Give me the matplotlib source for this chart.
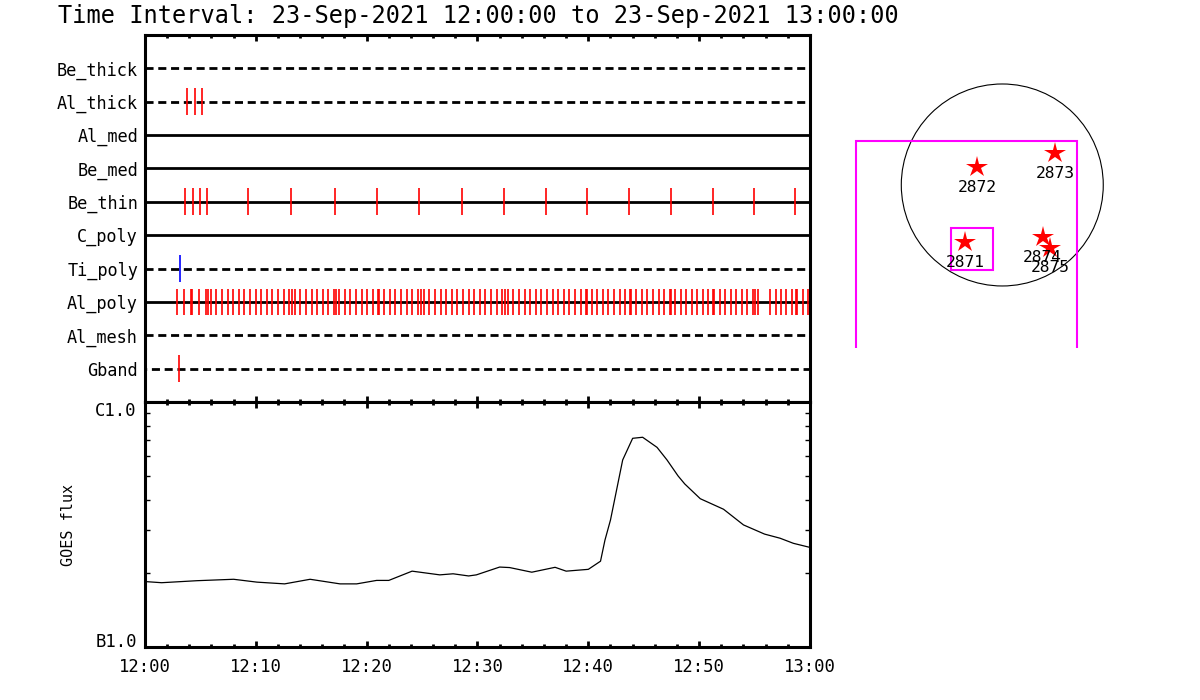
import matplotlib
matplotlib.use('Agg')
from matplotlib import pyplot as plt
from matplotlib.patches import Circle, Rectangle
import numpy as np

plt.rcParams['font.family'] = ['DejaVu Sans Mono', 'DejaVu Sans']

# detector rows, top to bottom
rows = ['Be_thick', 'Al_thick', 'Al_med', 'Be_med', 'Be_thin',
        'C_poly', 'Ti_poly', 'Al_poly', 'Al_mesh', 'Gband']
dashed = [True, True, False, False, False, False, True, False, True, True]

# event times, minutes after 12:00
al_thick_t = [3.82, 4.54, 5.17]
be_thin_t = [3.64, 4.36, 4.99, 5.62, 9.32, 13.2, 17.17, 20.96, 24.75, 28.63,
             32.42, 36.21, 39.91, 43.70, 47.49, 51.28, 54.98, 58.68]
ti_poly_t = [3.19]
al_poly_t = [2.92, 3.55, 4.18, 4.27, 4.90, 5.53, 5.71, 5.98, 6.44, 6.98,
             7.52, 7.97, 8.51, 8.96, 9.50, 10.05, 10.50, 11.04, 11.49, 12.03,
             12.57, 13.02, 13.29, 13.56, 14.02, 14.56, 15.10, 15.55, 16.09, 16.54,
             17.08, 17.26, 17.53, 18.08, 18.53, 19.07, 19.61, 20.06, 20.60, 21.05,
             21.14, 21.59, 22.14, 22.59, 23.13, 23.67, 24.12, 24.66, 24.93, 25.20,
             25.65, 26.20, 26.74, 27.19, 27.73, 28.18, 28.72, 29.26, 29.72, 30.26,
             30.71, 31.25, 31.79, 32.24, 32.51, 32.78, 33.23, 33.77, 34.31, 34.77,
             35.31, 35.76, 36.30, 36.84, 37.29, 37.84, 38.29, 38.83, 39.37, 39.82,
             39.91, 40.36, 40.81, 41.35, 41.80, 42.34, 42.89, 43.34, 43.79, 43.88,
             44.33, 44.87, 45.32, 45.87, 46.41, 46.86, 47.40, 47.49, 47.85, 48.39,
             48.84, 49.38, 49.84, 50.38, 50.83, 51.28, 51.37, 51.91, 52.36, 52.90,
             53.35, 53.90, 54.35, 54.89, 55.07, 55.34, 56.42, 56.93, 57.42, 57.87,
             58.41, 58.77, 58.86, 59.40, 59.85]
gband_t = [3.10]
events = {'Al_thick': al_thick_t, 'Be_thin': be_thin_t, 'Ti_poly': ti_poly_t,
          'Al_poly': al_poly_t, 'Gband': gband_t}
event_color = {'Ti_poly': 'blue'}

# GOES flux (W/m^2)
goes_t = [0, 1.5, 4.7, 8.0, 10.1, 12.6, 14.9, 17.6, 19.1, 20.9, 22.0, 24.1,
          26.6, 27.8, 29.2, 29.9, 32.0, 32.9, 34.9, 37.0, 38.0, 40.0, 41.1,
          41.5, 42.0, 43.1, 44.0, 44.9, 46.2, 47.1, 48.1, 48.7, 50.1, 52.2,
          54.0, 55.9, 57.3, 58.5, 60.0]
goes_flux = [1.85e-6, 1.83e-6, 1.865e-6, 1.89e-6, 1.84e-6, 1.81e-6, 1.89e-6,
             1.81e-6, 1.81e-6, 1.87e-6, 1.87e-6, 2.04e-6, 1.97e-6, 1.99e-6,
             1.95e-6, 1.97e-6, 2.12e-6, 2.11e-6, 2.02e-6, 2.115e-6, 2.04e-6,
             2.075e-6, 2.24e-6, 2.73e-6, 3.30e-6, 5.80e-6, 7.11e-6, 7.18e-6,
             6.53e-6, 5.80e-6, 4.99e-6, 4.63e-6, 4.03e-6, 3.65e-6, 3.15e-6,
             2.89e-6, 2.78e-6, 2.65e-6, 2.55e-6]

time_ticks = [0, 10, 20, 30, 40, 50, 60]
time_labels = ['12:00', '12:10', '12:20', '12:30', '12:40', '12:50', '13:00']

# active regions on the disk (arcsec)
ar_num = ['2871', '2872', '2873', '2874', '2875']
ar_x = [-353, -236, 501, 382, 451]
ar_y = [-542, 167, 300, -494, -593]
sun_r = 955
fov_x = [-1385, 711]
fov_y = [-1700, 419]
sel_x = [-488, -91]
sel_y = [-801, -404]

fig = plt.figure(figsize=(12, 7), dpi=100)
ax1 = fig.add_axes([0.1208, 0.4257, 0.5542, 0.5243])
ax2 = fig.add_axes([0.1208, 0.0757, 0.5542, 0.35])
ax3 = fig.add_axes([0.7, 0.5029, 0.2333, 0.4114])

fig.text(0.048, 0.977, 'Time Interval: 23-Sep-2021 12:00:00 to 23-Sep-2021 13:00:00',
         fontsize=17, va='center', ha='left')

nrow = len(rows)
for i, name in enumerate(rows):
    y = nrow - 1 - i
    ls = (0, (2.9, 1.7)) if dashed[i] else '-'
    if name == 'Gband':
        ls = (2.3, (2.9, 1.7))
    ax1.axhline(y, color='black', lw=2, ls=ls)
    if name in events:
        ax1.vlines(events[name], y - 0.4, y + 0.4,
                   color=event_color.get(name, 'red'), lw=1.2)
ax1.set_yticks(range(nrow))
ax1.set_yticklabels(rows[::-1], fontsize=12.2)
ax1.set_ylim(-1, nrow)
ax1.set_xlim(0, 60)
ax1.set_xticks(time_ticks)
ax1.set_xticks(np.arange(0, 61, 2), minor=True)
ax1.tick_params(axis='y', length=0, pad=5)
ax1.tick_params(axis='x', which='both', direction='in', top=True, bottom=True,
                labelbottom=False)

ax2.plot(goes_t, goes_flux, color='black', lw=0.9)
ax2.set_yscale('log')
ax2.set_ylim(1e-6, 1e-5)
ax2.set_yticks([1e-6, 1e-5])
ylab = ax2.set_yticklabels(['B1.0', 'C1.0'], fontsize=12.4)
ylab[0].set_va('baseline')
ylab[1].set_va('top')
ax2.set_yticks([k * 1e-6 for k in range(2, 10)], minor=True)
ax2.set_yticklabels([], minor=True)
ax2.set_xlim(0, 60)
ax2.set_xticks(time_ticks)
ax2.set_xticklabels(time_labels, fontsize=12.4)
ax2.set_xticks(np.arange(0, 61, 2), minor=True)
ax2.set_ylabel('GOES flux', fontsize=10.9, labelpad=14)
ax2.tick_params(axis='x', which='both', direction='in', top=True, bottom=True, pad=8)
ax2.tick_params(axis='y', which='both', direction='in', left=True, right=True, pad=6)
ax2.tick_params(axis='y', which='minor', length=3.6, width=1)
ax2.tick_params(axis='y', which='major', length=0)

for ax in (ax1, ax2):
    for s in ax.spines.values():
        s.set_linewidth(2.2)
    ax.tick_params(axis='x', which='major', length=4.5, width=2)
    ax.tick_params(axis='x', which='minor', length=2.5, width=2)

ax3.add_patch(Circle((0, 0), sun_r, fill=False, ec='black', lw=0.8))
ax3.add_patch(Rectangle((fov_x[0], fov_y[0]), fov_x[1] - fov_x[0], fov_y[1] - fov_y[0],
                        fill=False, ec='magenta', lw=1.5))
ax3.add_patch(Rectangle((sel_x[0], sel_y[0]), sel_x[1] - sel_x[0], sel_y[1] - sel_y[0],
                        fill=False, ec='magenta', lw=1.5))
ax3.plot(ar_x, ar_y, ls='none', marker='*', ms=16, color='red', mew=0)
for n, x, y in zip(ar_num, ar_x, ar_y):
    ax3.annotate(n, (x, y), xytext=(0, -14.5), textcoords='offset points',
                 ha='center', va='center', fontsize=11.7)
ax3.set_xlim(-1534.6, 1112.9)
ax3.set_ylim(-1541.2, 1181.9)
ax3.axis('off')

fig.savefig('out.png', dpi=100)
